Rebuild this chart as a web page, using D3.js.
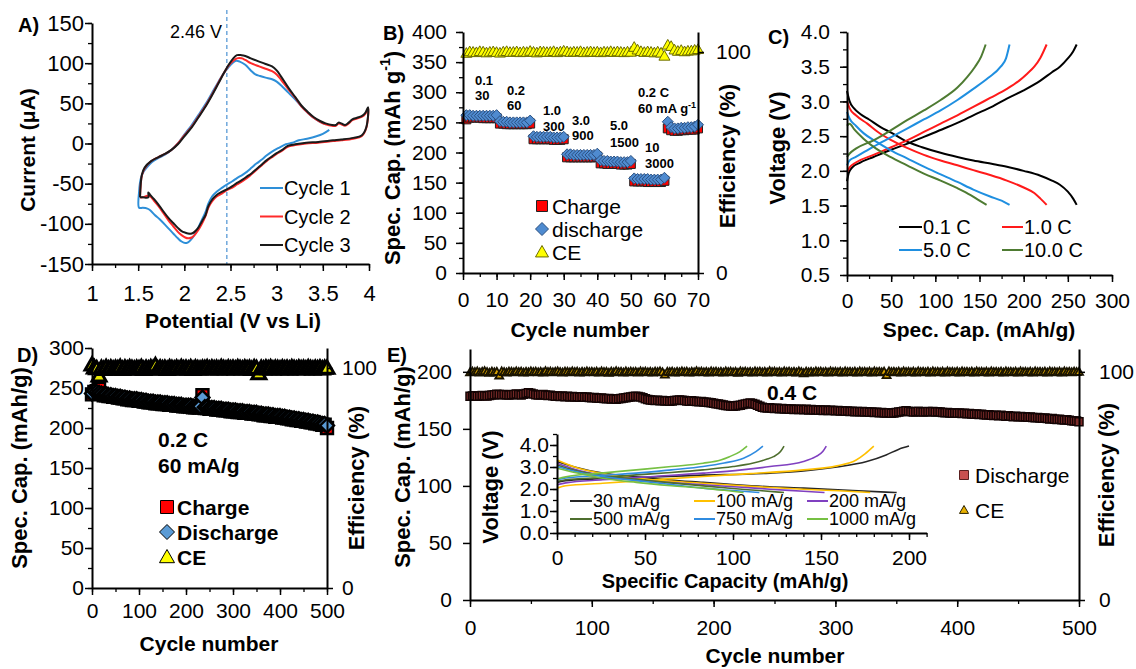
<!DOCTYPE html>
<html><head><meta charset="utf-8">
<script src="https://cdn.jsdelivr.net/npm/d3@7"></script>
<style>
body{margin:0;background:#fff;}
svg{display:block;font-family:"Liberation Sans",Arial,Helvetica,sans-serif;}
</style></head><body>
<svg id="chart" width="1136" height="669"></svg>
<script>
// ---------------- DATA ----------------
// Panel A: cyclic voltammetry [potential V, current uA]
const cvCycle1 = [[3.57,17],[3.50,12],[3.43,9],[3.33,6],[3.24,4],[3.17,1],[3.10,-1],[3.03,-5],[2.95,-10],[2.89,-15],[2.84,-20],[2.78,-25],[2.73,-30],[2.68,-35],[2.63,-39],[2.57,-43],[2.52,-47],[2.46,-51],[2.41,-55],[2.35,-60],[2.30,-66],[2.26,-75],[2.23,-85],[2.19,-95],[2.15,-105],[2.11,-114],[2.07,-120],[2.04,-123],[2.01,-124],[1.97,-122],[1.93,-118],[1.88,-112],[1.83,-106],[1.79,-101],[1.73,-94],[1.68,-89],[1.63,-83],[1.60,-81],[1.55,-80],[1.51,-80],[1.51,-60],[1.53,-43],[1.56,-35],[1.60,-29],[1.65,-23],[1.72,-18],[1.79,-14],[1.86,-8],[1.93,0],[2.00,11],[2.08,23],[2.15,35],[2.23,49],[2.30,63],[2.37,77],[2.43,88],[2.48,95],[2.52,100],[2.56,103],[2.60,102],[2.66,98],[2.72,91],[2.77,86],[2.82,84],[2.88,82],[2.95,80],[3.00,77],[3.06,71],[3.13,63],[3.20,55],[3.27,46],[3.34,38],[3.40,32],[3.47,27],[3.53,24]];
const cvCycle2 = [[1.52,-67],[1.54,-40],[1.57,-31],[1.64,-22],[1.72,-17],[1.79,-13],[1.86,-8],[1.93,0],[2.00,10],[2.08,21],[2.15,33],[2.23,47],[2.30,61],[2.37,76],[2.43,88],[2.48,97],[2.53,103],[2.57,106],[2.62,106],[2.66,104],[2.72,100],[2.81,96],[2.88,93],[2.95,90],[3.00,86],[3.05,79],[3.13,67],[3.20,57],[3.27,46],[3.34,38],[3.40,32],[3.47,27],[3.53,24],[3.60,22],[3.64,22],[3.67,25],[3.70,24],[3.74,22],[3.78,25],[3.82,29],[3.87,31],[3.92,33],[3.96,37],[3.99,44],[3.97,19],[3.92,9],[3.83,6],[3.70,4],[3.61,3],[3.45,1],[3.32,0],[3.20,-2],[3.12,-4],[3.06,-9],[3.00,-13],[2.95,-17],[2.89,-22],[2.84,-27],[2.78,-33],[2.73,-38],[2.68,-43],[2.63,-47],[2.57,-51],[2.52,-55],[2.46,-58],[2.41,-62],[2.35,-66],[2.30,-72],[2.26,-80],[2.23,-90],[2.19,-100],[2.15,-108],[2.11,-114],[2.08,-117],[2.04,-118],[2.01,-117],[1.97,-114],[1.93,-110],[1.88,-103],[1.83,-96],[1.77,-86],[1.72,-78],[1.67,-71],[1.63,-66],[1.60,-65],[1.55,-67],[1.52,-67]];
const cvCycle3 = [[1.52,-67],[1.54,-39],[1.57,-30],[1.64,-22],[1.72,-17],[1.79,-13],[1.86,-8],[1.93,-1],[2.00,9],[2.08,20],[2.15,32],[2.23,46],[2.30,60],[2.37,75],[2.43,88],[2.48,98],[2.53,106],[2.57,110],[2.62,110],[2.66,109],[2.72,106],[2.81,102],[2.88,99],[2.95,96],[3.00,91],[3.05,83],[3.13,69],[3.20,58],[3.27,47],[3.34,39],[3.40,33],[3.47,28],[3.53,25],[3.60,23],[3.64,23],[3.67,26],[3.70,25],[3.74,23],[3.78,26],[3.82,30],[3.87,32],[3.92,34],[3.96,38],[3.99,45],[3.97,20],[3.92,10],[3.83,7],[3.70,5],[3.61,4],[3.45,2],[3.32,1],[3.20,-1],[3.12,-3],[3.06,-8],[3.00,-12],[2.95,-16],[2.89,-21],[2.84,-26],[2.78,-32],[2.73,-37],[2.68,-41],[2.63,-45],[2.57,-49],[2.52,-53],[2.46,-57],[2.41,-60],[2.35,-64],[2.30,-70],[2.26,-78],[2.23,-89],[2.19,-97],[2.15,-105],[2.11,-110],[2.08,-112],[2.04,-112],[2.01,-111],[1.97,-109],[1.93,-105],[1.88,-99],[1.83,-93],[1.77,-84],[1.72,-76],[1.67,-69],[1.63,-64],[1.61,-61],[1.61,-67],[1.55,-67],[1.52,-67]];
const cvLabels = ["Cycle 1","Cycle 2","Cycle 3"];
const cvMarkerV = 2.46;

// Panel B: rate capability
const cyclesB = d3.range(1, 71);
const chargeB = [255,258,258,258,258,257,257,257,257,257, 248,248,247,247,247,247,247,247,247,248, 222,222,222,222,222,222,221,221,221,222, 192,192,192,192,192,192,192,192,192,193, 182,182,181,181,181,181,180,180,180,181, 152,152,152,152,151,151,151,151,151,153, 240,237,236,236,237,237,238,238,238,240];
const dischargeB = [262,262,261,261,261,261,261,261,261,262, 252,251,251,250,250,250,250,250,250,253, 227,226,226,226,226,226,225,225,225,226, 197,197,196,196,196,196,196,196,196,198, 187,186,186,185,185,185,184,184,184,186, 157,156,156,156,156,155,155,155,155,158, 251,242,240,240,241,241,242,242,243,246];
const ceB = [99.5,100.2,100.0,99.8,100.3,100.1,99.7,100.0,100.2,99.9, 99.6,100.1,100.3,99.9,100.0,100.2,99.8,100.1,99.9,100.4, 100.0,99.7,100.2,100.1,99.9,100.0,100.3,99.8,100.1,100.5, 100.2,99.9,100.1,100.0,100.3,99.8,100.0,100.2,99.9,100.1, 99.8,100.1,100.0,100.3,99.9,100.2,100.0,99.8,100.1,100.0, 102.2,101.0,100.3,99.9,100.2,100.0,99.7,100.1,99.6,98.2, 103.2,102.6,101.0,100.4,100.8,100.2,100.5,100.6,100.9,101.2];
const rateLabelsB = [["0.1","30"],["0.2","60"],["1.0","300"],["3.0","900"],["5.0","1500"],["10","3000"]];
const legendB = ["Charge","discharge","CE"];

// Panel C: charge/discharge profiles [capacity, voltage]
const c01Charge = [[0,1.85],[2,1.97],[6,2.05],[15,2.12],[30,2.2],[49,2.3],[70,2.4],[87,2.49],[110,2.61],[130,2.72],[143,2.8],[165,2.93],[181,3.04],[200,3.16],[219,3.3],[232,3.42],[241,3.5],[250,3.62],[256,3.72],[260,3.82]];
const c01Dis = [[0,3.15],[3,3.0],[8,2.9],[15,2.82],[25,2.74],[38,2.63],[50,2.55],[68,2.42],[85,2.34],[106,2.26],[125,2.2],[143,2.15],[165,2.1],[181,2.06],[200,2.0],[219,1.93],[232,1.86],[241,1.8],[250,1.7],[256,1.6],[260,1.51]];
const c10Charge = [[0,1.98],[3,2.05],[10,2.12],[30,2.23],[50,2.34],[68,2.44],[87,2.56],[106,2.68],[125,2.8],[143,2.92],[162,3.05],[181,3.18],[195,3.3],[204,3.4],[212,3.5],[219,3.63],[226,3.82]];
const c10Dis = [[0,3.0],[3,2.9],[10,2.8],[23,2.68],[35,2.56],[49,2.45],[68,2.33],[87,2.23],[106,2.15],[125,2.08],[143,2.01],[162,1.94],[181,1.86],[200,1.76],[212,1.68],[219,1.6],[226,1.51]];
const c50Charge = [[0,2.08],[3,2.15],[10,2.2],[30,2.35],[49,2.48],[68,2.61],[87,2.74],[106,2.87],[125,3.02],[143,3.18],[160,3.34],[174,3.5],[180,3.62],[184,3.82]];
const c50Dis = [[0,2.85],[3,2.75],[10,2.65],[19,2.54],[33,2.42],[49,2.3],[68,2.18],[87,2.06],[106,1.95],[125,1.84],[143,1.73],[162,1.63],[175,1.57],[184,1.51]];
const c100Charge = [[0,2.2],[3,2.25],[10,2.32],[30,2.44],[49,2.58],[68,2.73],[87,2.87],[106,3.02],[125,3.2],[136,3.35],[145,3.5],[152,3.65],[157,3.82]];
const c100Dis = [[0,2.65],[3,2.68],[8,2.6],[19,2.46],[33,2.32],[49,2.2],[68,2.08],[87,1.96],[106,1.86],[125,1.75],[140,1.65],[150,1.57],[158,1.51]];
const rateLabelsC = ["0.1 C","1.0 C","5.0 C","10.0 C"];

// Panel D: long cycling at 0.2 C
const cyclesD = d3.range(0, 501, 5);
const chargeD = [242,245,246,249,243,241,241,240,240,239, 239,238,238,237,237,236,236,235,235,235, 234,234,233,233,232,232,232,231,231,231, 230,230,230,229,229,229,228,228,228,227, 227,227,227,226,226,226,226,241,225,225, 224,224,224,223,223,223,222,222,222,221, 221,221,220,220,220,219,219,219,218,218, 218,217,217,216,216,216,215,215,214,214, 214,213,213,212,212,211,211,210,210,209, 209,208,208,207,207,206,206,205,204,204, 200];
const dischargeD = [243,246,245,244,243,242,242,241,241,240, 240,239,239,238,238,237,237,236,236,236, 235,235,234,234,233,233,233,232,232,232, 231,231,231,230,230,230,229,229,229,228, 228,228,228,227,227,227,227,238,226,226, 225,225,225,224,224,224,223,223,223,222, 222,222,221,221,221,220,220,220,219,219, 219,218,218,217,217,217,216,216,215,215, 215,214,214,213,213,212,212,211,211,210, 210,209,209,208,208,207,207,206,205,205, 203];
const ceD = [101.5,100.2,99.8,96.5,100.0,99.5,100.3,99.7,100.1,99.6, 100.0,99.8,100.4,99.5,100.1,99.7,100.2,99.9,99.6,100.0, 99.8,100.3,99.5,100.0,99.7,100.2,99.9,101.2,99.6,100.1, 99.8,100.0,99.5,100.2,99.9,99.7,100.1,99.6,100.3,99.8, 100.0,99.7,100.2,99.5,100.1,99.8,99.6,100.0,99.9,100.2, 99.7,100.1,99.8,100.0,99.6,100.3,99.9,99.7,100.1,99.8, 100.0,99.6,100.2,99.9,99.7,100.1,99.8,100.0,99.5,100.2, 99.9,97.5,100.0,99.7,100.1,99.8,100.2,99.6,100.0,99.9, 99.7,100.1,99.8,100.0,99.6,100.2,99.9,99.7,100.1,99.8, 100.0,99.7,100.2,99.9,99.6,100.0,99.8,100.1,99.7,100.0, 100.0];
const legendD = ["Charge","Discharge","CE"];

// Panel E: long cycling at 0.4 C
const cyclesE = d3.range(0, 501, 2);
const dischargeE = [178.5,178.8,179.0,178.6,178.9,179.2,179.0,178.7,179.3,179.6,180.0,180.3,180.1,179.8,180.2,180.0,179.6,179.9,180.2,180.5,180.1,179.7,180.4,181.0,181.6,
 181.2,180.5,180.0,179.6,179.8,180.1,179.7,179.2,179.5,179.0,178.6,178.9,178.4,178.7,178.2,178.5,178.0,178.3,177.9,178.2,177.8,178.1,177.6,177.9,177.5,
 177.2,177.5,177.0,176.8,177.1,176.6,176.3,176.6,176.1,176.4,176.0,176.3,176.7,177.0,177.3,177.6,177.9,178.3,178.6,178.4,178.0,177.2,176.5,175.8,175.4,
 175.0,174.8,175.1,174.6,174.9,174.4,174.7,174.2,174.5,174.8,175.1,175.4,175.1,174.8,174.5,174.2,174.6,174.3,174.0,173.7,174.0,173.6,173.3,173.0,172.8,
 172.5,172.1,171.7,171.3,170.9,170.5,170.2,170.0,169.8,170.1,170.4,170.8,171.3,171.8,172.3,172.6,172.2,171.5,170.6,169.8,169.0,168.6,168.2,168.4,168.0,
 167.8,168.1,167.6,167.9,167.4,167.7,167.2,167.5,167.0,167.3,166.9,167.2,166.8,167.1,166.6,166.9,166.5,166.8,166.3,166.6,166.2,166.5,166.1,166.4,166.0,
 165.8,166.1,165.6,165.9,165.4,165.7,165.2,165.5,165.0,165.3,164.9,165.2,164.7,165.0,164.5,164.8,164.3,164.6,164.1,164.4,164.0,163.8,164.1,163.7,164.0,
 164.3,164.7,165.1,165.5,165.8,165.5,165.1,164.8,165.1,165.4,165.0,164.7,165.0,165.3,164.9,165.2,164.8,165.1,164.7,164.4,164.1,164.4,164.0,163.7,164.0,
 163.6,163.9,163.4,163.7,163.2,163.5,163.0,162.7,163.0,162.6,162.9,162.4,162.1,162.4,162.0,161.7,162.0,161.6,161.9,161.4,161.1,161.4,161.0,160.7,161.0,
 160.6,160.9,160.4,160.7,160.2,160.5,160.0,159.7,160.0,159.5,159.2,159.5,159.0,158.7,159.0,158.5,158.2,158.5,158.0,157.7,158.0,157.5,157.2,157.0,156.8,
 156.3];
const ceE = [99.8,100.1,99.9,100.2,99.7,100.0,100.3,99.9,99.6,100.1,99.8,100.0,98.4,100.2,99.9,99.7,100.1,100.0,99.8,100.2,99.9,100.1,99.7,100.0,99.8,
 100.2,99.9,100.1,99.8,100.0,99.7,100.3,99.9,100.1,99.8,100.0,100.2,99.9,99.7,100.1,100.0,99.8,100.2,99.9,100.1,99.7,100.0,99.8,100.2,99.9,
 100.0,99.8,100.1,99.7,100.2,99.9,100.0,99.6,100.1,99.8,100.3,99.9,100.0,99.7,100.2,99.8,100.1,99.9,100.0,99.7,100.2,99.9,100.1,99.8,100.0,
 99.7,100.1,99.9,100.2,99.8,98.8,100.0,99.9,100.1,99.7,100.0,99.8,100.2,99.9,100.1,99.7,100.0,99.8,100.3,99.9,100.1,99.8,100.0,99.7,100.2,
 99.9,100.1,99.8,100.0,99.7,100.2,99.9,100.1,99.8,100.0,99.6,100.2,99.9,100.1,99.8,100.0,99.7,100.2,99.9,100.1,99.8,100.0,99.7,100.3,99.9,
 100.1,99.8,100.0,99.7,100.2,99.9,100.1,99.8,100.0,99.7,100.2,99.9,99.4,100.1,99.8,100.0,99.7,100.2,99.9,100.1,99.8,100.0,99.7,100.2,99.9,
 100.0,99.8,100.1,99.7,100.2,99.9,100.0,99.8,100.1,99.7,100.2,99.9,100.0,99.8,100.1,99.7,100.2,99.9,100.0,99.8,100.1,98.6,100.2,99.9,100.0,
 99.8,100.1,99.7,100.2,99.9,100.0,99.8,100.1,99.7,100.2,99.9,100.0,99.8,100.1,99.7,100.2,99.9,100.0,99.8,100.1,99.7,100.2,99.9,100.0,99.8,
 100.1,99.7,100.2,99.9,100.0,99.8,100.1,99.7,100.2,99.9,100.0,99.8,100.1,99.7,100.2,99.9,100.0,99.8,100.1,99.7,100.2,99.9,100.0,99.8,100.1,
 99.7,100.2,99.9,100.0,99.8,100.1,99.7,100.2,99.9,100.0,99.8,100.1,99.7,100.2,99.9,100.0,99.8,100.1,99.7,100.2,99.9,100.0,99.8,100.1,99.9,
 100.0];
const legendE = ["Discharge","CE"];

// Panel E inset: voltage profiles at different current densities
const in30Charge = [[0,2.3],[5,2.38],[20,2.45],[45,2.52],[80,2.62],[121,2.72],[140,2.82],[159,3.0],[176,3.25],[187,3.55],[194,3.8],[200,3.95]];
const in30Dis = [[0,3.25],[10,3.0],[26,2.72],[45,2.55],[64,2.41],[83,2.3],[102,2.19],[121,2.1],[140,2.04],[168,1.93],[187,1.86],[193,1.84]];
const in100Charge = [[0,2.04],[5,2.15],[26,2.26],[55,2.42],[83,2.57],[110,2.7],[140,2.87],[159,3.05],[170,3.32],[175,3.6],[180,3.95]];
const in100Dis = [[0,3.32],[10,3.0],[26,2.7],[50,2.45],[83,2.26],[110,2.12],[140,1.99],[160,1.92],[178,1.84]];
const in200Charge = [[0,2.19],[5,2.28],[26,2.42],[55,2.57],[83,2.72],[105,2.87],[121,3.02],[140,3.25],[147,3.47],[151,3.7],[153,3.95]];
const in200Dis = [[0,3.17],[10,2.9],[26,2.62],[50,2.38],[83,2.19],[105,2.08],[121,1.99],[140,1.9],[152,1.84]];
const in500Charge = [[0,2.34],[5,2.42],[25,2.52],[45,2.64],[65,2.75],[83,2.87],[100,3.02],[111,3.17],[119,3.35],[123,3.47],[127,3.7],[129,3.95]];
const in500Dis = [[0,3.09],[10,2.85],[25,2.62],[45,2.45],[65,2.28],[83,2.14],[100,2.02],[115,1.93],[129,1.84]];
const in750Charge = [[0,2.42],[5,2.5],[25,2.62],[45,2.72],[65,2.87],[83,3.02],[95,3.18],[106,3.4],[113,3.7],[117,3.95]];
const in750Dis = [[0,3.02],[10,2.8],[25,2.58],[45,2.38],[65,2.2],[83,2.04],[100,1.93],[115,1.84]];
const in1000Charge = [[0,2.45],[5,2.55],[25,2.72],[45,2.87],[65,3.02],[83,3.17],[93,3.32],[98,3.47],[104,3.7],[108,3.95]];
const in1000Dis = [[0,2.94],[10,2.75],[25,2.5],[45,2.3],[65,2.15],[83,2.04],[95,1.94],[106,1.84]];
const insetLabels = ["30 mA/g","100 mA/g","200 mA/g","500 mA/g","750 mA/g","1000 mA/g"];

// ---------------- DRAWING ----------------
const svg = d3.select("#chart");
const FONT = '"Liberation Sans", Arial, Helvetica, sans-serif';
svg.append("rect").attr("width",1136).attr("height",669).attr("fill","#fff");

function styleAxis(g, fs){
  g.attr("font-size", fs).attr("font-family", FONT);
  g.select(".domain").attr("stroke","#000").attr("stroke-width",2);
  g.selectAll(".tick line").attr("stroke","#000").attr("stroke-width",1.5);
  g.selectAll(".tick text").attr("fill","#000");
}
function minorTicks(axisFn, pos, scale, vals, transform){
  const g = svg.append("g").attr("transform", transform)
    .call(axisFn(scale).tickValues(vals).tickSize(4).tickSizeOuter(0).tickFormat(""));
  g.select(".domain").remove();
  g.selectAll(".tick line").attr("stroke","#000").attr("stroke-width",1.3);
}
function yAxisLeft(x, scale, major, minor, fmt, pad, fs){
  if (minor) minorTicks(d3.axisLeft, x, scale, minor, `translate(${x},0)`);
  const g = svg.append("g").attr("transform",`translate(${x},0)`)
    .call(d3.axisLeft(scale).tickValues(major).tickSize(7).tickSizeOuter(0).tickPadding(pad).tickFormat(fmt));
  styleAxis(g, fs||21);
}
function yAxisRight(x, scale, major, pad, fs){
  const g = svg.append("g").attr("transform",`translate(${x},0)`)
    .call(d3.axisRight(scale).tickValues(major).tickSize(6).tickSizeOuter(0).tickPadding(pad).tickFormat(d=>String(d)));
  styleAxis(g, fs||21);
}
function xAxisBottom(y, scale, major, minor, fmt, pad, fs){
  if (minor) minorTicks(d3.axisBottom, y, scale, minor, `translate(0,${y})`);
  const g = svg.append("g").attr("transform",`translate(0,${y})`)
    .call(d3.axisBottom(scale).tickValues(major).tickSize(7).tickSizeOuter(0).tickPadding(pad).tickFormat(fmt));
  styleAxis(g, fs||21);
}
function text(str, x, y, o={}){
  const t = svg.append("text").attr("x",x).attr("y",y)
    .attr("font-size", o.size||21).attr("font-weight", o.bold?"bold":"normal")
    .attr("font-family", FONT)
    .attr("text-anchor", o.anchor||"start").attr("fill", o.color||"#000").text(str);
  if (o.rotate) t.attr("transform",`rotate(${o.rotate},${x},${y})`).attr("dominant-baseline","central");
  return t;
}
const shapes = {
  square: s => `M${-s/2},${-s/2}h${s}v${s}h${-s}Z`,
  diamond: s => `M0,${-s/2}L${s/2},0L0,${s/2}L${-s/2},0Z`,
  triangle: s => `M0,${-s*0.5}L${s/2},${s*0.38}L${-s/2},${s*0.38}Z`
};
function markers(xs, ys, xScale, yScale, shape, size, fill, stroke, sw){
  svg.append("g").selectAll("path").data(ys).join("path")
    .attr("transform",(d,i)=>`translate(${xScale(xs[i])},${yScale(d)})`)
    .attr("d", shapes[shape](size)).attr("fill",fill).attr("stroke",stroke).attr("stroke-width",sw);
}
function marker(x, y, shape, size, fill, stroke, sw){
  svg.append("path").attr("transform",`translate(${x},${y})`).attr("d",shapes[shape](size))
    .attr("fill",fill).attr("stroke",stroke).attr("stroke-width",sw);
}
function curve(data, xs, ys, color, w, cv){
  svg.append("path").datum(data).attr("fill","none").attr("stroke",color).attr("stroke-width",w)
    .attr("stroke-linejoin","round")
    .attr("d", d3.line().x(d=>xs(d[0])).y(d=>ys(d[1])).curve(cv||d3.curveMonotoneX));
}
function legendLine(x1, x2, y, color, label, fs){
  svg.append("line").attr("x1",x1).attr("x2",x2).attr("y1",y).attr("y2",y).attr("stroke",color).attr("stroke-width",2);
  text(label, x2+1, y+fs*0.35, {size:fs});
}

// ===== Panel A =====
{
  const x = d3.scaleLinear().domain([1,4]).range([92,369]);
  const y = d3.scaleLinear().domain([-150,150]).range([264,23]);
  const cols = ["#2E8FD8","#FF2A2A","#1a1a1a"];
  svg.append("line").attr("x1",x(cvMarkerV)).attr("x2",x(cvMarkerV)).attr("y1",10).attr("y2",264)
    .attr("stroke","#6FA8DC").attr("stroke-width",1.5).attr("stroke-dasharray","4,3");
  const cr = d3.curveCatmullRom.alpha(0.5);
  curve(cvCycle1, x, y, cols[0], 2, cr);
  curve(cvCycle2, x, y, cols[1], 2, cr);
  curve(cvCycle3, x, y, cols[2], 2, cr);
  yAxisLeft(92, y, d3.range(-150,151,50), d3.range(-150,151,25), d=>String(d), 1, 22);
  xAxisBottom(264, x, [1,1.5,2,2.5,3,3.5,4], d3.range(1,4.01,0.25), d=>String(d), 14, 22);
  text("2.46 V", 170, 38, {size:18});
  [0,1,2].forEach((i)=> legendLine(260, 283, 188+i*28.5, cols[i], cvLabels[i], 20));
  text("A)", 18, 32, {size:20, bold:true});
  text("Current (μA)", 27, 150, {size:21, bold:true, anchor:"middle", rotate:-90});
  text("Potential (V vs Li)", 233, 328, {size:21, bold:true, anchor:"middle"});
}

// ===== Panel B =====
{
  const x = d3.scaleLinear().domain([0,70]).range([463,698]);
  const y = d3.scaleLinear().domain([0,400]).range([273,32]);
  const yr = d3.scaleLinear().domain([0,109.05]).range([273,32]);
  markers(cyclesB, chargeB, x, y, "square", 9, "#FF0000", "#222", 1);
  markers(cyclesB, dischargeB, x, y, "diamond", 11, "#4F8BD0", "#2A4F80", 1);
  markers(cyclesB, ceB, x, yr, "triangle", 11, "#FFFF00", "#6B6B00", 1);
  yAxisLeft(463, y, d3.range(0,401,50), d3.range(0,401,25), d=>String(d), 9, 21);
  yAxisRight(698, yr, [0,100], 12, 21);
  xAxisBottom(273, x, d3.range(0,71,10), d3.range(0,71,5), d=>String(d), 12, 21);
  const ap = [[475,85,100],[507,95,110],[543,115,131],[572,125,140],[610,130,147],[645,152,168]];
  rateLabelsB.forEach((l,i)=>{
    text(l[0], ap[i][0], ap[i][1], {size:13, bold:true});
    text(l[1], ap[i][0], ap[i][2], {size:13, bold:true});
  });
  text("0.2 C", 638, 97, {size:13, bold:true});
  const t = text("60 mA g", 638, 113, {size:13, bold:true});
  t.append("tspan").attr("font-size",9).attr("dy",-5).text("-1");
  marker(542, 206, "square", 11, "#FF0000", "#222", 1);
  marker(542, 229, "diamond", 13, "#4F8BD0", "#2A4F80", 1);
  marker(542, 252, "triangle", 13, "#FFFF00", "#6B6B00", 1);
  legendB.forEach((l,i)=> text(l, 552, 206+i*23.3+7.5, {size:21}));
  text("B)", 383, 40, {size:20, bold:true});
  const ty = svg.append("text").attr("transform","translate(392,158) rotate(-90)").attr("text-anchor","middle")
    .attr("dominant-baseline","central").attr("font-size",22).attr("font-weight","bold").attr("font-family",FONT).text("Spec. Cap. (mAh g");
  ty.append("tspan").attr("font-size",14).attr("dy",-7).text("-1");
  ty.append("tspan").attr("dy",7).text(")");
  text("Efficiency (%)", 727, 156, {size:22, bold:true, anchor:"middle", rotate:-90});
  text("Cycle number", 580, 337, {size:21, bold:true, anchor:"middle"});
}

// ===== Panel C =====
{
  const x = d3.scaleLinear().domain([0,300]).range([847,1112]);
  const y = d3.scaleLinear().domain([0.5,4.0]).range([275,32]);
  const cols = ["#000000","#FF1A1A","#1F8FE0","#4E7B32"];
  const sets = [[c01Charge,c01Dis],[c10Charge,c10Dis],[c50Charge,c50Dis],[c100Charge,c100Dis]];
  sets.forEach((s,i)=>{ curve(s[0], x, y, cols[i], 2); curve(s[1], x, y, cols[i], 2); });
  yAxisLeft(847, y, d3.range(0.5,4.01,0.5), d3.range(0.5,4.01,0.25), d3.format(".1f"), 10, 21);
  xAxisBottom(275, x, d3.range(0,301,50), d3.range(0,301,25), d=>String(d), 11, 21);
  legendLine(899, 922, 227, cols[0], rateLabelsC[0], 20);
  legendLine(1002, 1023, 227, cols[1], rateLabelsC[1], 20);
  legendLine(899, 922, 250, cols[2], rateLabelsC[2], 20);
  legendLine(1002, 1023, 250, cols[3], rateLabelsC[3], 20);
  text("C)", 768, 44, {size:20, bold:true});
  text("Voltage (V)", 777, 148, {size:22, bold:true, anchor:"middle", rotate:-90});
  text("Spec. Cap. (mAh/g)", 979, 337, {size:21, bold:true, anchor:"middle"});
}

// ===== Panel D =====
{
  const x = d3.scaleLinear().domain([0,500]).range([92,327]);
  const y = d3.scaleLinear().domain([0,300]).range([588,348]);
  const yr = d3.scaleLinear().domain([0,109.1]).range([588,348]);
  markers(cyclesD, chargeD, x, y, "square", 12, "#FF0000", "#000", 2.4);
  markers(cyclesD, dischargeD, x, y, "diamond", 14, "#5B9BD5", "#000", 2.4);
  markers(cyclesD, ceD, x, yr, "triangle", 14, "#E8E800", "#000", 3);
  yAxisLeft(92, y, d3.range(0,301,50), d3.range(0,301,25), d=>String(d), 1, 21);
  yAxisRight(327, yr, [0,100], 9, 21);
  xAxisBottom(588, x, d3.range(0,501,100), d3.range(0,501,50), d=>String(d), 8, 21);
  text("0.2 C", 158, 447, {size:21, bold:true});
  text("60 mA/g", 158, 473, {size:21, bold:true});
  marker(167, 507, "square", 13, "#FF0000", "#000", 1);
  marker(167, 532, "diamond", 15, "#5B9BD5", "#000", 1);
  marker(167, 557, "triangle", 15, "#FFFF00", "#000", 1);
  legendD.forEach((l,i)=> text(l, 177, 507+i*25+7.5, {size:21, bold:true}));
  text("D)", 17, 362, {size:20, bold:true});
  text("Spec. Cap. (mAh/g)", 19, 468, {size:22, bold:true, anchor:"middle", rotate:-90});
  text("Efficiency (%)", 356, 478, {size:22, bold:true, anchor:"middle", rotate:-90});
  text("Cycle number", 209, 651, {size:21, bold:true, anchor:"middle"});
}

// ===== Panel E =====
{
  const x = d3.scaleLinear().domain([0,500]).range([470,1079]);
  const y = d3.scaleLinear().domain([0,220]).range([600,349]);
  const yr = d3.scaleLinear().domain([0,110]).range([600,349]);
  markers(cyclesE, dischargeE, x, y, "square", 8, "#7E2C2A", "#140404", 1.5);
  markers(cyclesE, ceE, x, yr, "triangle", 8, "#D8A200", "#1a1400", 1.8);
  yAxisLeft(470, y, d3.range(0,201,50), null, d=>String(d), 11, 21);
  yAxisRight(1079, yr, [0,100], 14, 21);
  xAxisBottom(600, x, d3.range(0,501,100), d3.range(0,501,50), d=>String(d), 13, 21);
  text("0.4 C", 767, 400, {size:21, bold:true});
  marker(964, 475, "square", 9, "#C9504F", "#5a1f1f", 1);
  marker(964, 510, "triangle", 9, "#E8B000", "#2a2200", 1);
  legendE.forEach((l,i)=> text(l, 975, 475+i*35+7.5, {size:21}));
  text("E)", 387, 362, {size:20, bold:true});
  text("Spec. Cap. (mAh/g)", 402, 467, {size:22, bold:true, anchor:"middle", rotate:-90});
  text("Efficiency (%)", 1106, 475, {size:22, bold:true, anchor:"middle", rotate:-90});
  text("Cycle number", 775, 663, {size:21, bold:true, anchor:"middle"});

  // inset
  const xi = d3.scaleLinear().domain([0,210]).range([557,926.6]);
  const yi = d3.scaleLinear().domain([0,4.5]).range([533,434]);
  const icol = ["#262626","#FFC000","#8040C0","#4E6E2E","#2F8BE0","#76C043"];
  const isets = [[in30Charge,in30Dis],[in100Charge,in100Dis],[in200Charge,in200Dis],[in500Charge,in500Dis],[in750Charge,in750Dis],[in1000Charge,in1000Dis]];
  isets.forEach((s,i)=>{ curve(s[0], xi, yi, icol[i], 1.6); curve(s[1], xi, yi, icol[i], 1.6); });
  yAxisLeft(557, yi, [0,1,2,3,4], d3.range(0,4.51,0.5), d3.format(".1f"), 1, 21);
  xAxisBottom(533, xi, d3.range(0,201,50), d3.range(0,211,10), d=>String(d), 10, 21);
  const lx = [[570,592],[694,715],[807,828]];
  insetLabels.forEach((l,i)=> legendLine(lx[i%3][0], lx[i%3][1], i<3?501:519, icol[i], l, 18));
  text("Voltage (V)", 490, 487, {size:22, bold:true, anchor:"middle", rotate:-90});
  text("Specific Capacity (mAh/g)", 725, 588, {size:20, bold:true, anchor:"middle"});
}
</script>
</body></html>
